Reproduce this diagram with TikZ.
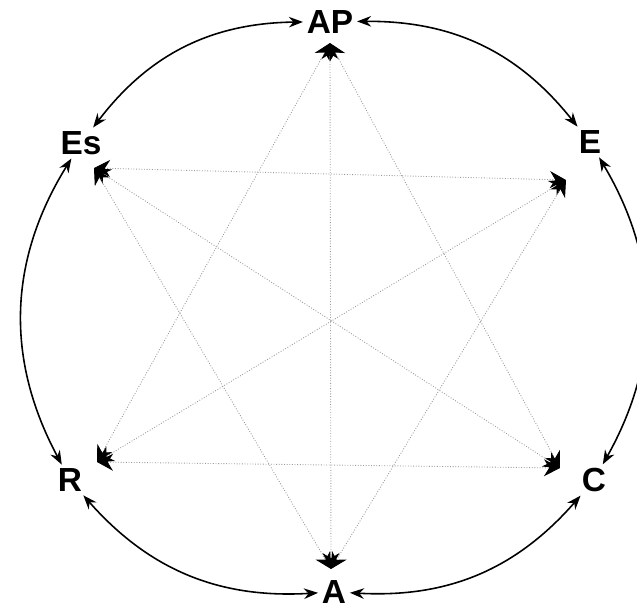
\documentclass[tikz,border=0pt]{standalone}
\usepackage{fontspec}
\setmainfont{Liberation Sans}
\usetikzlibrary{arrows.meta}

\begin{document}
\begin{tikzpicture}[x=0.02cm,y=-0.02cm,
        lbl/.style={font=\fontsize{19}{22}\selectfont\bfseries,inner sep=2pt},
        ring/.style={{Stealth[length=8pt,width=6pt]}-{Stealth[length=8pt,width=6pt]},line width=0.9pt},
        link/.style={{Stealth[length=0.32cm,width=0.34cm,color=black]}-{Stealth[length=0.32cm,width=0.34cm,color=black]},
                     densely dotted,black!40,line width=0.5pt}
    ]
        \useasboundingbox (0,0) rectangle (637,610);
        % labels on the ring
        \node[lbl] (ap) at (330,22) {AP};
        \node[lbl] (e) at (590,142) {E};
        \node[lbl] (c) at (594,480) {C};
        \node[lbl] (a) at (334,592) {A};
        \node[lbl] (r) at (70,480) {R};
        \node[lbl] (es) at (81,143) {Es};
        % ends of the inner links
        \coordinate (apin) at (330,43);
        \coordinate (ein) at (566,180);
        \coordinate (cin) at (560,468);
        \coordinate (ain) at (331,569);
        \coordinate (rin) at (97,462);
        \coordinate (esin) at (94,168);
        % outer ring
        \draw[ring] (ap) to[bend left=26] (e);
        \draw[ring] (e) to[bend left=30] (c);
        \draw[ring] (c) to[bend left=26] (a);
        \draw[ring] (a) to[bend left=26] (r);
        \draw[ring] (r) to[bend left=30] (es);
        \draw[ring] (es) to[bend left=26] (ap);
        % inner links
        \draw[link] (apin) -- (rin);
        \draw[link] (apin) -- (ain);
        \draw[link] (apin) -- (cin);
        \draw[link] (esin) -- (ein);
        \draw[link] (esin) -- (cin);
        \draw[link] (esin) -- (ain);
        \draw[link] (ein) -- (rin);
        \draw[link] (ein) -- (ain);
        \draw[link] (rin) -- (cin);
    \end{tikzpicture}
\end{document}
